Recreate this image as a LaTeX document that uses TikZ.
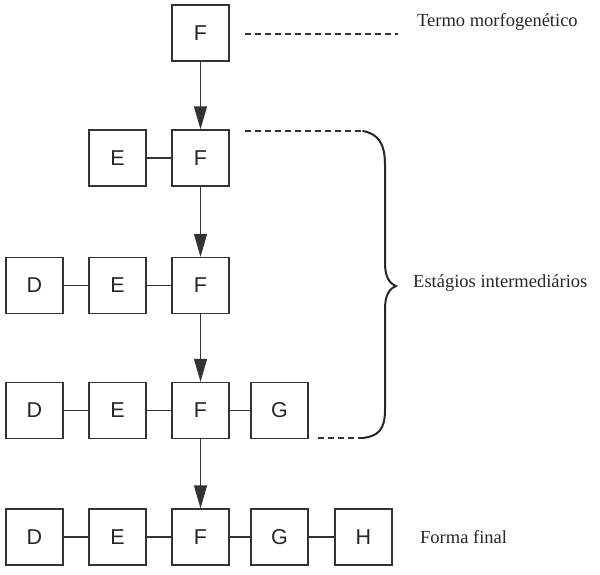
\documentclass[tikz,border=0pt]{standalone}
\usepackage{fontspec}
\setmainfont{Liberation Serif}
\newfontfamily\boxfont{Liberation Sans}
\usetikzlibrary{arrows.meta}
\begin{document}
\begin{tikzpicture}[x=1pt,y=-1pt,
  box/.style={draw=black!80, line width=1.3pt, minimum width=57pt, minimum height=56pt, inner sep=0pt, font=\boxfont\fontsize{21.5}{25}\selectfont, text=black!85},
  link/.style={draw=black!80, line width=1.3pt},
  flow/.style={draw=black!80, line width=1.3pt, -{Triangle[width=13pt,length=23pt]}},
  dashline/.style={draw=black!80, line width=1.3pt, dash pattern=on 6pt off 4pt},
  lbl/.style={anchor=west, inner sep=0pt, font=\fontsize{18.5}{22}\selectfont, text=black!85}]
\useasboundingbox (0,0) rectangle (600,574);
% row 1
\node[box] (F1) at (200.5,33) {F};
% row 2
\node[box] (E2) at (117.5,158) {E};
\node[box] (F2) at (200.5,158) {F};
% row 3
\node[box] (D3) at (34.5,285.5) {D};
\node[box] (E3) at (117.5,285.5) {E};
\node[box] (F3) at (200.5,285.5) {F};
% row 4
\node[box] (D4) at (34.5,410.5) {D};
\node[box] (E4) at (117.5,410.5) {E};
\node[box] (F4) at (200.5,410.5) {F};
\node[box] (G4) at (279.5,410.5) {G};
% row 5
\node[box] (D5) at (34.5,537) {D};
\node[box] (E5) at (117.5,537) {E};
\node[box] (F5) at (200.5,537) {F};
\node[box] (G5) at (279.5,537) {G};
\node[box] (H5) at (363.5,537) {H};
% horizontal links
\draw[link] (E2) -- (F2);
\draw[link] (D3) -- (E3);
\draw[link] (E3) -- (F3);
\draw[link] (D4) -- (E4);
\draw[link] (E4) -- (F4);
\draw[link] (F4) -- (G4);
\draw[link] (D5) -- (E5);
\draw[link] (E5) -- (F5);
\draw[link] (F5) -- (G5);
\draw[link] (G5) -- (H5);
% arrows
\draw[flow] (F1) -- (F2);
\draw[flow] (F2) -- (F3);
\draw[flow] (F3) -- (F4);
\draw[flow] (F4) -- (F5);
% dashed guides
\coordinate (t1a) at (245,34);
\coordinate (t1b) at (398,34);
\coordinate (t2a) at (245,131);
\coordinate (t2b) at (363,131);
\coordinate (t3a) at (318,438);
\coordinate (t3b) at (363,438);
\draw[dashline] (t1a) -- (t1b);
\draw[dashline] (t2a) -- (t2b);
\draw[dashline] (t3a) -- (t3b);
% brace
\draw[black!85, line width=2pt, line cap=round]
  (t2b) .. controls (378,134) and (385,143) .. (385,165)
  -- (385,262) .. controls (385,277) and (389,283) .. (396,286)
  .. controls (389,289) and (385,295) .. (385,310)
  -- (385,410) .. controls (385,430) and (378,436) .. (t3b);
% labels
\node[lbl] (L1) at (417,22) {Termo morfogenético};
\node[lbl] (L2) at (413,283) {Estágios intermediários};
\node[lbl] (L3) at (420,537) {Forma final};
\end{tikzpicture}
\end{document}
